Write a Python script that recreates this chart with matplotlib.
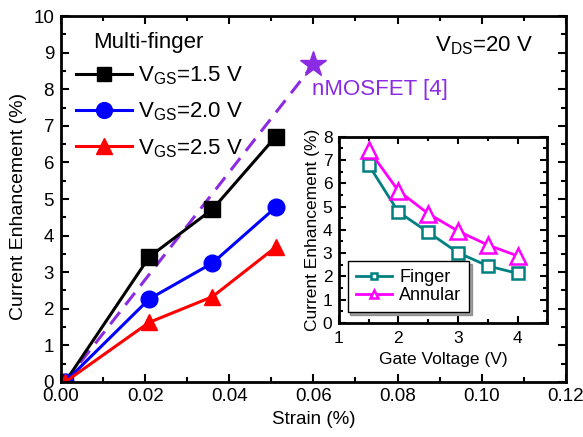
import matplotlib
matplotlib.use("Agg")
import matplotlib.pyplot as plt
from matplotlib.ticker import MultipleLocator, FormatStrFormatter

plt.rcParams['font.family'] = ['Liberation Sans', 'DejaVu Sans']
plt.rcParams['mathtext.fontset'] = 'custom'
plt.rcParams['mathtext.rm'] = 'Liberation Sans'

strain = [0.001, 0.021, 0.036, 0.051]
vgs15 = [0.0, 3.42, 4.72, 6.70]
vgs20 = [0.0, 2.27, 3.25, 4.77]
vgs25 = [0.0, 1.63, 2.33, 3.68]
ref_x = [0.001, 0.060]
ref_y = [0.0, 8.68]

gate_v = [1.5, 2.0, 2.5, 3.0, 3.5, 4.0]
finger = [6.80, 4.77, 3.90, 3.02, 2.45, 2.13]
annular = [7.45, 5.68, 4.70, 3.95, 3.35, 2.88]

fig = plt.figure(figsize=(5.83, 4.37), dpi=100)
ax = fig.add_axes([0.1046, 0.126, 0.866, 0.837])

purple = '#8B2BE2'
ax.plot(ref_x, ref_y, color=purple, lw=2.2, ls=(0, (5, 3)))
ax.plot(ref_x[1:], ref_y[1:], marker='*', color=purple, ms=19, ls='none')
ax.text(0.0597, 8.0, 'nMOSFET [4]', color=purple, fontsize=16, va='center')

l1, = ax.plot(strain, vgs15, color='black', marker='s', ms=11, lw=2.2)
l2, = ax.plot(strain, vgs20, color='blue', marker='o', ms=12, lw=2.2)
l3, = ax.plot(strain, vgs25, color='red', marker='^', ms=12, lw=2.2)

ax.set_xlim(0, 0.12)
ax.set_ylim(0, 10)
ax.xaxis.set_major_locator(MultipleLocator(0.02))
ax.xaxis.set_minor_locator(MultipleLocator(0.01))
ax.yaxis.set_major_locator(MultipleLocator(1))
ax.yaxis.set_minor_locator(MultipleLocator(0.5))
ax.xaxis.set_major_formatter(FormatStrFormatter('%.2f'))
ax.tick_params(which='both', direction='in', top=True, right=True, width=1.5, labelsize=13.5)
ax.tick_params(axis='x', pad=4.5)
ax.tick_params(axis='y', pad=5)
ax.tick_params(which='major', length=6)
ax.tick_params(which='minor', length=3.5)
for s in ax.spines.values():
    s.set_linewidth(2)
ax.set_xlabel('Strain (%)', fontsize=13.5, labelpad=4)
ax.set_ylabel('Current Enhancement (%)', fontsize=14)
ax.yaxis.set_label_coords(-0.067, 0.48)

ax.text(0.063, 0.929, 'Multi-finger', transform=ax.transAxes, fontsize=16, va='center', ha='left')
leg = ax.legend([l1, l2, l3], [r'V$_{\rm GS}$=1.5 V', r'V$_{\rm GS}$=2.0 V', r'V$_{\rm GS}$=2.5 V'],
                loc='upper left', frameon=False, fontsize=16, handlelength=2.5,
                handletextpad=0.3, bbox_to_anchor=(0.03, 0.868), borderaxespad=0, borderpad=0,
                labelspacing=0.62, markerscale=0.95)
ax.text(0.935, 0.92, r'V$_{\rm DS}$=20 V', transform=ax.transAxes, ha='right', va='center', fontsize=16)

ins = fig.add_axes([0.581, 0.261, 0.358, 0.426])
i1, = ins.plot(gate_v, finger, color='#008080', marker='s', mfc='white', mec='#008080', mew=1.8, ms=8, lw=2)
i2, = ins.plot(gate_v, annular, color='#FF00FF', marker='^', mfc='white', mec='#FF00FF', mew=1.8, ms=11, lw=2)
ins.set_xlim(1, 4.5)
ins.set_ylim(0, 8)
ins.xaxis.set_major_locator(MultipleLocator(1))
ins.xaxis.set_minor_locator(MultipleLocator(0.5))
ins.yaxis.set_major_locator(MultipleLocator(1))
ins.yaxis.set_minor_locator(MultipleLocator(0.5))
ins.tick_params(which='both', direction='in', top=True, right=True, width=1.5, labelsize=12.5)
ins.tick_params(axis='x', pad=6)
ins.tick_params(axis='y', pad=4.5)
ins.tick_params(which='major', length=5)
ins.tick_params(which='minor', length=3)
for s in ins.spines.values():
    s.set_linewidth(2)
ins.set_xlabel('Gate Voltage (V)', fontsize=12.5, labelpad=4)
ins.set_ylabel('Current Enhancement (%)', fontsize=12.5, labelpad=2)
il = ins.legend([i1, i2], ['Finger', 'Annular'], loc='lower left', fontsize=13, fancybox=False,
                shadow=True, handlelength=2.0, borderpad=0.45, handletextpad=0.4, labelspacing=0.05,
                bbox_to_anchor=(0.043, 0.059), borderaxespad=0, markerscale=0.5)
il.get_frame().set_edgecolor('black')
il.get_frame().set_linewidth(1)

fig.savefig('out.png', dpi=100)
